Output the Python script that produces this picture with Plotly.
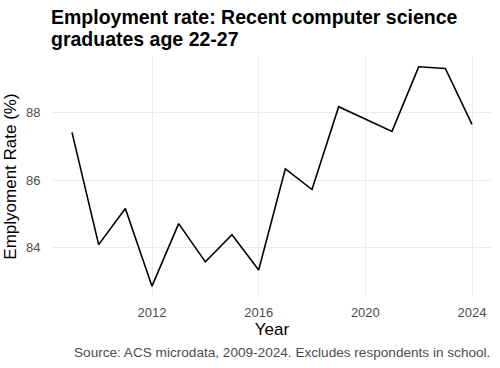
import plotly.graph_objects as go

years = [2009, 2010, 2011, 2012, 2013, 2014, 2015, 2016,
         2017, 2018, 2019, 2020, 2021, 2022, 2023, 2024]
employment_rate = [87.41, 84.09, 85.16, 82.86, 84.71, 83.58, 84.38, 83.34,
                   86.33, 85.72, 88.17, 87.80, 87.44, 89.35, 89.30, 87.65]
x_ticks = [2012, 2016, 2020, 2024]
y_ticks = [84, 86, 88]

title_lines = ["Employment rate: Recent computer science", "graduates age 22-27"]
caption_text = "Source: ACS microdata, 2009-2024. Excludes respondents in school."

FONT = "Liberation Sans, Arial, sans-serif"
PLOT_LEFT, PLOT_RIGHT = 52, 492
PLOT_TOP, PLOT_BOTTOM = 56, 297
PH = PLOT_BOTTOM - PLOT_TOP
PW = PLOT_RIGHT - PLOT_LEFT


def py(pix):
    return (PLOT_BOTTOM - pix) / PH


def px(pix):
    return (pix - PLOT_LEFT) / PW


fig = go.Figure()
fig.add_trace(go.Scatter(x=years, y=employment_rate, mode="lines",
                         line=dict(color="black", width=1.6),
                         showlegend=False, hoverinfo="x+y"))

annotations = []
for i, line in enumerate(title_lines):
    annotations.append(dict(text="<b>" + line + "</b>", xref="paper", yref="paper",
                            x=px(49), y=py(17.5 + 21 * i), xanchor="left", yanchor="middle",
                            showarrow=False, font=dict(family=FONT, size=19.5, color="black")))
annotations.append(dict(text=caption_text, xref="paper", yref="paper",
                        x=1, y=py(352), xanchor="right", yanchor="middle",
                        showarrow=False, font=dict(family=FONT, size=13.6, color="#4D4D4D")))

fig.update_layout(
    width=500, height=368,
    margin=dict(l=PLOT_LEFT, r=500 - PLOT_RIGHT, t=PLOT_TOP, b=368 - PLOT_BOTTOM),
    paper_bgcolor="white", plot_bgcolor="white",
    font=dict(family=FONT, color="black"),
    xaxis=dict(range=[2008.25, 2024.75], tickvals=x_ticks,
               showgrid=True, gridcolor="#EBEBEB", gridwidth=1.3,
               zeroline=False, showline=False,
               ticks="outside", ticklen=3, tickcolor="rgba(0,0,0,0)",
               tickfont=dict(size=13, color="#4D4D4D"),
               title=dict(text="Year", font=dict(size=17, color="black"), standoff=2)),
    yaxis=dict(range=[82.54, 89.67], tickvals=y_ticks,
               showgrid=True, gridcolor="#EBEBEB", gridwidth=1.3,
               zeroline=False, showline=False,
               ticks="outside", ticklen=8, tickcolor="rgba(0,0,0,0)",
               tickfont=dict(size=13, color="#4D4D4D"),
               title=dict(text="Emplyoment Rate (%)", font=dict(size=17, color="black"), standoff=4)),
    annotations=annotations,
)

fig.write_html("out.html")
